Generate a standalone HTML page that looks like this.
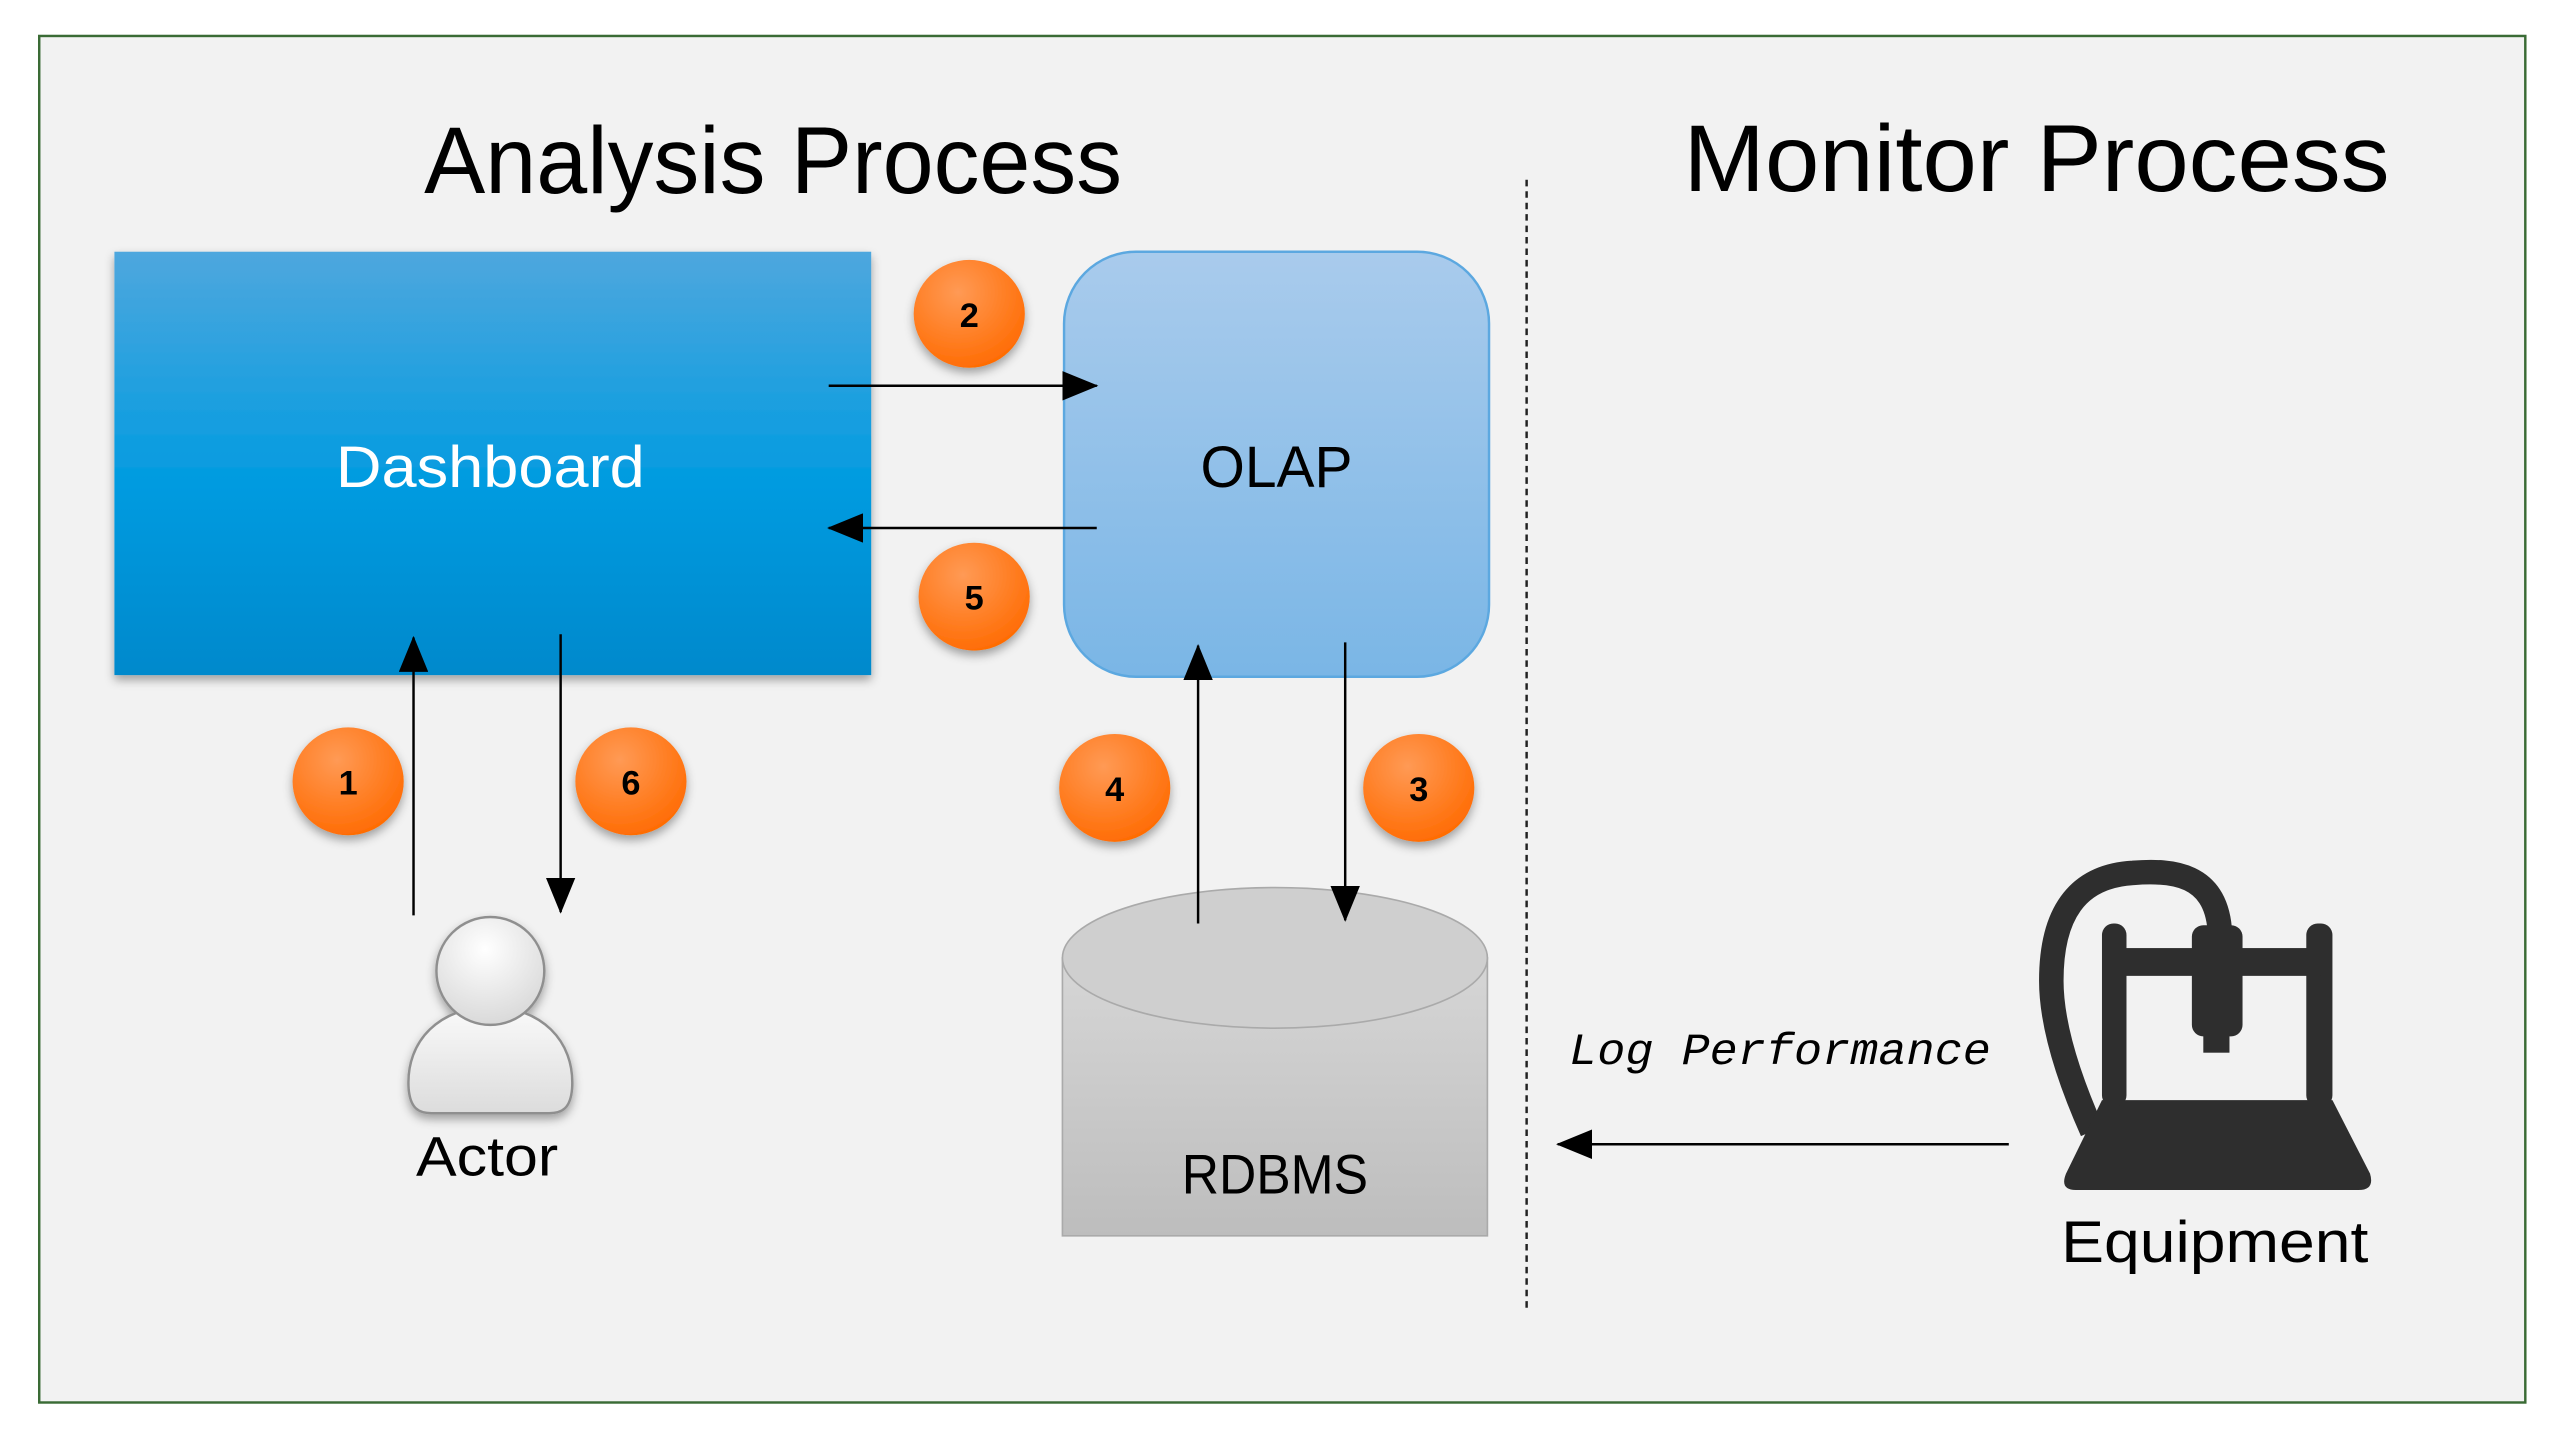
<!DOCTYPE html>
<html><head><meta charset="utf-8"><style>
html,body{margin:0;padding:0;background:#fff;}
svg{display:block;}
</style></head><body>
<svg width="2558" height="1445" viewBox="0 0 1565 884" preserveAspectRatio="none" xmlns="http://www.w3.org/2000/svg">
<defs>
<linearGradient id="dash" x1="0" y1="0" x2="0" y2="1">
<stop offset="0" stop-color="#4ea7de"/><stop offset="0.55" stop-color="#019be0"/><stop offset="1" stop-color="#0089cc"/>
</linearGradient>
<linearGradient id="olap" x1="0" y1="0" x2="0" y2="1">
<stop offset="0" stop-color="#a9cbec"/><stop offset="1" stop-color="#7ab6e6"/>
</linearGradient>
<linearGradient id="cyl" x1="0" y1="0" x2="0" y2="1">
<stop offset="0" stop-color="#d6d6d6"/><stop offset="1" stop-color="#bdbdbd"/>
</linearGradient>
<radialGradient id="org" cx="0.4" cy="0.3" r="0.75">
<stop offset="0" stop-color="#ff9a55"/><stop offset="1" stop-color="#ff6a00"/>
</radialGradient>
<radialGradient id="head" cx="0.45" cy="0.3" r="0.8">
<stop offset="0" stop-color="#ffffff"/><stop offset="1" stop-color="#d4d4d4"/>
</radialGradient>
<linearGradient id="body" x1="0" y1="0" x2="0" y2="1">
<stop offset="0" stop-color="#fafafa"/><stop offset="1" stop-color="#dcdcdc"/>
</linearGradient>
<filter id="sh" x="-20%" y="-20%" width="140%" height="150%"><feDropShadow dx="0" dy="3" stdDeviation="3" flood-color="#000" flood-opacity="0.35"/></filter>
<marker id="ah" markerWidth="22" markerHeight="18" refX="21" refY="9" orient="auto" markerUnits="userSpaceOnUse"><path d="M0,0 L22,9 L0,18 z" fill="#000"/></marker>
</defs>
<rect x="0" y="0" width="1565" height="884" fill="#fff"/>
<rect x="24" y="22" width="1521" height="836" fill="#f2f2f2" stroke="#3a6b35" stroke-width="1.5"/>

<text x="473" y="118" font-family="Liberation Sans, sans-serif" font-size="58" text-anchor="middle" textLength="427" lengthAdjust="spacingAndGlyphs" fill="#000">Analysis Process</text>
<text x="1246" y="117" font-family="Liberation Sans, sans-serif" font-size="58" text-anchor="middle" textLength="432" lengthAdjust="spacingAndGlyphs" fill="#000">Monitor Process</text>

<line x1="934" y1="110" x2="934" y2="800" stroke="#222" stroke-width="1.5" stroke-dasharray="4,3"/>

<rect x="70" y="154" width="463" height="259" fill="url(#dash)" filter="url(#sh)"/>
<text x="300" y="298" font-family="Liberation Sans, sans-serif" font-size="36" text-anchor="middle" textLength="189" lengthAdjust="spacingAndGlyphs" fill="#fff">Dashboard</text>

<rect x="651" y="154" width="260" height="260" rx="44" ry="44" fill="url(#olap)" stroke="#5ca8e0" stroke-width="1.5"/>
<text x="781" y="298" font-family="Liberation Sans, sans-serif" font-size="36" text-anchor="middle" textLength="93" lengthAdjust="spacingAndGlyphs" fill="#000">OLAP</text>

<path d="M650,586 L650,756 L910,756 L910,586 Z" fill="url(#cyl)" stroke="#aaa" stroke-width="1"/>
<ellipse cx="780" cy="586" rx="130" ry="43" fill="#cfcfcf" stroke="#aaa" stroke-width="1"/>
<text x="780" y="730" font-family="Liberation Sans, sans-serif" font-size="34" text-anchor="middle" textLength="114" lengthAdjust="spacingAndGlyphs" fill="#000">RDBMS</text>

<g stroke="#000" stroke-width="1.5" fill="none">
<line x1="507" y1="236" x2="671" y2="236" marker-end="url(#ah)"/>
<line x1="671" y1="323" x2="507" y2="323" marker-end="url(#ah)"/>
<line x1="253" y1="560" x2="253" y2="390" marker-end="url(#ah)"/>
<line x1="343" y1="388" x2="343" y2="558" marker-end="url(#ah)"/>
<line x1="733" y1="565" x2="733" y2="395" marker-end="url(#ah)"/>
<line x1="823" y1="393" x2="823" y2="563" marker-end="url(#ah)"/>
<line x1="1229" y1="700" x2="953" y2="700" marker-end="url(#ah)"/>
</g>

<g font-family="Liberation Sans, sans-serif" font-size="21" font-weight="bold" text-anchor="middle" fill="#000">
<ellipse cx="593" cy="192" rx="34" ry="33" fill="url(#org)" filter="url(#sh)"/><text x="593" y="200">2</text>
<ellipse cx="596" cy="365" rx="34" ry="33" fill="url(#org)" filter="url(#sh)"/><text x="596" y="373">5</text>
<ellipse cx="213" cy="478" rx="34" ry="33" fill="url(#org)" filter="url(#sh)"/><text x="213" y="486">1</text>
<ellipse cx="386" cy="478" rx="34" ry="33" fill="url(#org)" filter="url(#sh)"/><text x="386" y="486">6</text>
<ellipse cx="682" cy="482" rx="34" ry="33" fill="url(#org)" filter="url(#sh)"/><text x="682" y="490">4</text>
<ellipse cx="868" cy="482" rx="34" ry="33" fill="url(#org)" filter="url(#sh)"/><text x="868" y="490">3</text>
</g>

<g filter="url(#sh)">
<path d="M250,666 C248,636 270,616 300,616 C330,616 352,636 350,666 C349,678 344,681 336,681 L264,681 C256,681 251,678 250,666 Z" fill="url(#body)" stroke="#8f8f8f" stroke-width="1.5"/>
<circle cx="300" cy="594" r="33" fill="url(#head)" stroke="#8f8f8f" stroke-width="1.5"/>
</g>
<text x="298" y="719" font-family="Liberation Sans, sans-serif" font-size="34" text-anchor="middle" textLength="87" lengthAdjust="spacingAndGlyphs" fill="#000">Actor</text>

<text x="960" y="651" font-family="Liberation Mono, monospace" font-style="italic" font-size="27" textLength="258" lengthAdjust="spacingAndGlyphs" fill="#000">Log Performance</text>

<g fill="#2e2e2e">
<path d="M1358,568 C1355,535 1330,532 1305,534 C1270,536 1255,560 1255,600 C1255,630 1268,665 1280,692" fill="none" stroke="#2e2e2e" stroke-width="15"/>
<path d="M1286,673 L1427,673 L1450,718 Q1453,728 1443,728 L1270,728 Q1260,728 1264,718 Z"/>
<rect x="1286" y="565" width="15" height="112" rx="7"/>
<rect x="1411" y="565" width="16" height="112" rx="7"/>
<rect x="1290" y="580" width="130" height="17"/>
<rect x="1341" y="566" width="31" height="68" rx="7"/>
<rect x="1348" y="628" width="16" height="16"/>
</g>
<text x="1355" y="772" font-family="Liberation Sans, sans-serif" font-size="36" text-anchor="middle" textLength="188" lengthAdjust="spacingAndGlyphs" fill="#000">Equipment</text>
</svg>
</body></html>
